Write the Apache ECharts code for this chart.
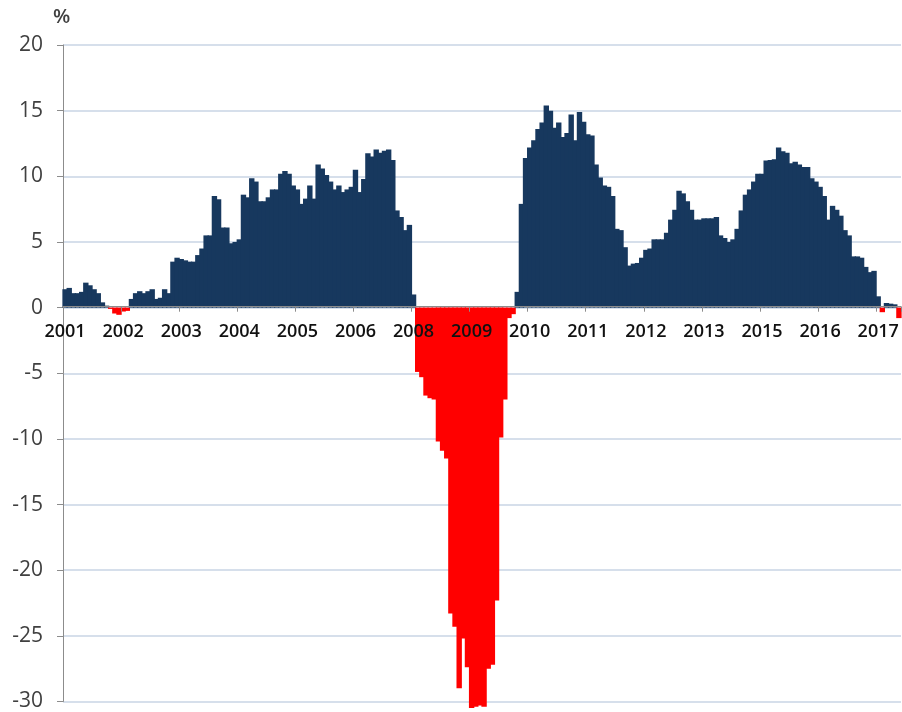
<!DOCTYPE html>
<html>
<head>
<meta charset="utf-8">
<script src="https://cdn.jsdelivr.net/npm/echarts@6/dist/echarts.min.js"></script>
<style>
  html, body { margin: 0; padding: 0; background: #ffffff; }
  #chart { width: 902px; height: 712px; }
</style>
</head>
<body>
<div id="chart"></div>
<script>
// Year-on-year change, %, monthly from January 2001
const y2001 = [1.4, 1.5, 1.1, 1.1, 1.2, 1.9, 1.7, 1.4, 1.1, 0.4, 0.15, -0.1];
const y2002 = [-0.45, -0.55, -0.3, -0.25, 0.66, 1.1, 1.25, 1.1, 1.25, 1.4, 0.66, 0.75];
const y2003 = [1.4, 1.1, 3.5, 3.8, 3.7, 3.6, 3.5, 3.5, 4.0, 4.5, 5.5, 5.5];
const y2004 = [8.5, 8.25, 6.1, 6.1, 4.9, 5.0, 5.2, 8.6, 8.4, 9.85, 9.6, 8.1];
const y2005 = [8.1, 8.4, 9.0, 9.0, 10.2, 10.4, 10.2, 9.3, 9.0, 7.9, 8.3, 9.3];
const y2006 = [8.3, 10.9, 10.6, 10.1, 9.6, 9.0, 9.3, 8.8, 9.0, 9.2, 10.5, 8.8];
const y2007 = [9.8, 11.75, 11.5, 12.05, 11.8, 11.95, 12.05, 11.25, 7.4, 6.9, 5.9, 6.3];
const y2008 = [1.0, -4.9, -5.3, -6.7, -6.9, -7.0, -10.2, -10.9, -11.5, -23.3, -24.3, -29.0];
const y2009 = [-25.2, -27.4, -30.5, -30.4, -30.3, -30.4, -27.5, -27.2, -22.3, -9.9, -7.0, -0.8];
const y2010 = [-0.5, 1.2, 7.9, 11.4, 12.2, 12.75, 13.6, 14.1, 15.4, 15.0, 13.7, 14.1];
const y2011 = [13.0, 13.3, 14.7, 12.75, 14.9, 14.15, 13.2, 13.1, 10.9, 9.9, 9.3, 9.2];
const y2012 = [8.5, 6.0, 5.9, 4.6, 3.2, 3.35, 3.4, 3.8, 4.4, 4.5, 5.2, 5.2];
const y2013 = [5.2, 5.7, 6.7, 7.45, 8.9, 8.7, 8.1, 7.45, 6.7, 6.7, 6.8, 6.8];
const y2014 = [6.8, 6.9, 5.5, 5.3, 5.0, 5.2, 6.0, 7.4, 8.6, 9.0, 9.6, 10.2];
const y2015 = [10.2, 11.2, 11.25, 11.3, 12.2, 11.9, 11.8, 11.0, 11.1, 10.9, 10.7, 10.7];
const y2016 = [9.85, 9.6, 9.2, 8.5, 6.7, 7.75, 7.45, 7.0, 5.9, 5.5, 3.9, 3.9];
const y2017 = [3.8, 3.1, 2.7, 2.8, 0.86, -0.35, 0.35, 0.3, 0.25, -0.8];

const years = [2001, 2002, 2003, 2004, 2005, 2006, 2007, 2008, 2009,
               2010, 2011, 2012, 2013, 2014, 2015, 2016, 2017];
const yearValues = [y2001, y2002, y2003, y2004, y2005, y2006, y2007, y2008, y2009,
                    y2010, y2011, y2012, y2013, y2014, y2015, y2016, y2017];

// Value axis ticks
const yMin = -30, yMax = 20, yStep = 5;
// One year label every 14 months along the category axis
const labelEvery = 14;

const months = [];
const values = [];
years.forEach((yr, k) => {
  yearValues[k].forEach((v, m) => {
    months.push(yr + '-' + String(m + 1).padStart(2, '0'));
    values.push(v);
  });
});

const NAVY = '#17385e';
const RED = '#ff0000';
const FONT = 'Open Sans';

const W = 902, H = 712;
const gridBox = { left: 63, right: 1, top: 45, bottom: 9 };
// Lift the category axis from the bottom edge up to the zero line
const plotH = H - gridBox.top - gridBox.bottom;
const zeroOffset = -((0 - yMin) / (yMax - yMin)) * plotH;

const barData = values.map(v => ({
  value: v,
  itemStyle: { color: v < 0 ? RED : NAVY }
}));

const chart = echarts.init(document.getElementById('chart'), null, { renderer: 'canvas' });
chart.setOption({
  animation: false,
  backgroundColor: '#ffffff',
  grid: Object.assign({ containLabel: false }, gridBox),
  graphic: [{
    type: 'text',
    left: 53,
    top: 7,
    style: { text: '%', fontFamily: FONT, fontSize: 20, fontWeight: 600, fill: '#404040' }
  }],
  xAxis: {
    type: 'category',
    data: months,
    boundaryGap: true,
    z: 5,
    offset: zeroOffset,
    axisLine: { onZero: false, lineStyle: { color: '#8c8c8c', width: 1 } },
    axisTick: { show: true, interval: labelEvery - 1, length: 5, lineStyle: { color: '#8c8c8c' } },
    axisLabel: {
      interval: labelEvery - 1,
      margin: 16,
      fontFamily: FONT,
      fontSize: 18,
      fontWeight: 600,
      color: '#111111',
      formatter: v => v.slice(0, 4)
    },
    splitLine: { show: false }
  },
  yAxis: {
    type: 'value',
    min: yMin,
    max: yMax,
    interval: yStep,
    axisLine: { show: true, lineStyle: { color: '#8c8c8c', width: 1 } },
    axisTick: { show: true, length: 6, lineStyle: { color: '#8c8c8c' } },
    axisLabel: { margin: 20, fontFamily: FONT, fontSize: 21, color: '#404040' },
    splitLine: { show: true, lineStyle: { color: '#c8d5e4', width: 1.5 } }
  },
  series: [{
    type: 'bar',
    data: barData,
    // slightly wider than a month so adjacent bars close up into one solid area
    barWidth: '130%',
    clip: false
  }]
});
</script>
</body>
</html>
